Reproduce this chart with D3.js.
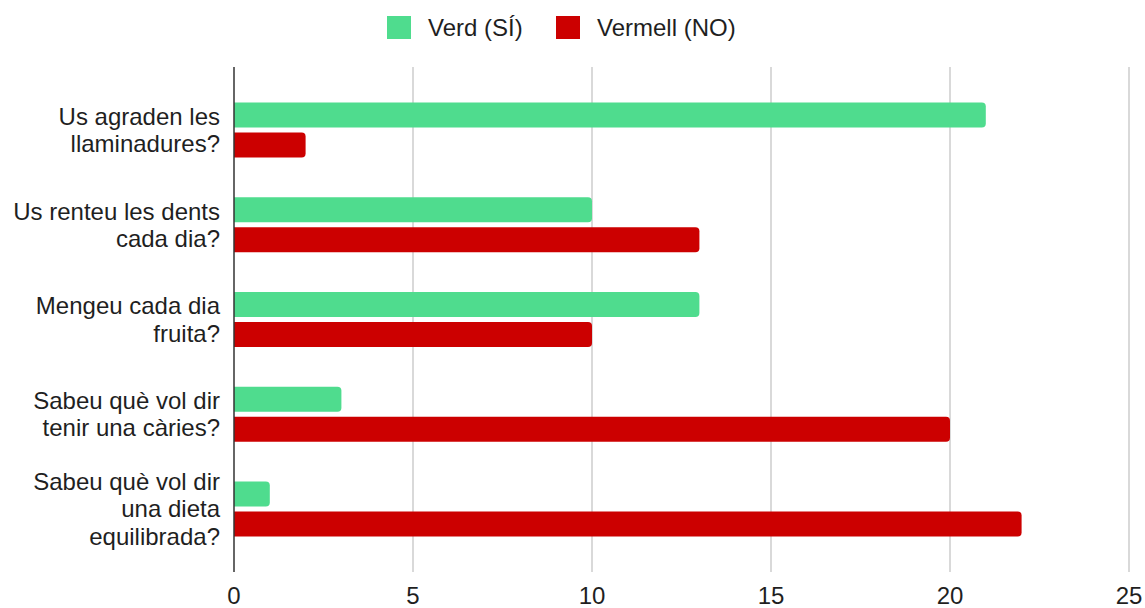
<!DOCTYPE html>
<html><head><meta charset="utf-8">
<script src="https://cdn.jsdelivr.net/npm/d3@7"></script>
<style>body{margin:0;background:#fff;} text{font-family:"Liberation Sans",Arial,sans-serif;fill:#1f1f1f;}</style>
</head><body>
<svg id="c" width="1145" height="608"></svg>
<script>
const categories = [
  ["Us agraden les","llaminadures?"],
  ["Us renteu les dents","cada dia?"],
  ["Mengeu cada dia","fruita?"],
  ["Sabeu què vol dir","tenir una càries?"],
  ["Sabeu què vol dir","una dieta","equilibrada?"]
];
const seriesNames = ["Verd (SÍ)", "Vermell (NO)"];
const verd = [21, 10, 13, 3, 1];
const vermell = [2, 13, 10, 20, 22];
const xTicks = [0, 5, 10, 15, 20, 25];
const colors = ["#4fdc8e", "#cc0000"];

(function () {
const svg = d3.select("#c");
const pLeft = 234, pRight = 1129, pTop = 67, pBottom = 572;
const x = d3.scaleLinear().domain([0, 25]).range([pLeft, pRight]);
const y = d3.scaleBand().domain(d3.range(categories.length)).range([pTop, pBottom]).paddingInner(0.42).paddingOuter(0.375);
const ys = d3.scaleBand().domain([0, 1]).range([0, y.bandwidth()]).paddingInner(0.17);

// grid
svg.append("g").selectAll("line").data(xTicks.filter(d => d > 0)).join("line")
  .attr("x1", d => x(d)).attr("x2", d => x(d)).attr("y1", pTop).attr("y2", pBottom)
  .attr("stroke", "#cccccc").attr("stroke-width", 1.5);

// bars
const series = [verd, vermell];
function barPath(x0, x1, y0, h, r) {
  r = Math.min(r, (x1 - x0), h / 2);
  return `M${x0},${y0}H${x1 - r}A${r},${r} 0 0 1 ${x1},${y0 + r}V${y0 + h - r}A${r},${r} 0 0 1 ${x1 - r},${y0 + h}H${x0}Z`;
}
series.forEach((vals, si) => {
  svg.append("g").selectAll("path").data(vals).join("path")
    .attr("d", (v, i) => barPath(x(0), x(v), y(i) + ys(si), ys.bandwidth(), 4))
    .attr("fill", colors[si]);
});

// axis line
svg.append("line").attr("x1", x(0)).attr("x2", x(0)).attr("y1", pTop).attr("y2", pBottom)
  .attr("stroke", "#333").attr("stroke-width", 1.5);

// x tick labels
svg.append("g").selectAll("text").data(xTicks).join("text")
  .attr("x", d => x(d)).attr("y", 604).attr("text-anchor", "middle")
  .style("font-size", "24px").text(d => d);

// y labels
const lh = 27.5;
const yl = svg.append("g");
categories.forEach((lines, i) => {
  const cy = y(i) + y.bandwidth() / 2;
  const t = yl.append("text").attr("text-anchor", "end").style("font-size", "24px");
  lines.forEach((ln, j) => {
    t.append("tspan").attr("x", 220)
      .attr("y", cy + 8.5 + (j - (lines.length - 1) / 2) * lh).text(ln);
  });
});

// legend
const lg = svg.append("g");
const legX = [387, 556];
seriesNames.forEach((n, i) => {
  lg.append("rect").attr("x", legX[i]).attr("y", 16).attr("width", 24).attr("height", 23)
    .attr("fill", colors[i]);
  lg.append("text").attr("x", legX[i] + 41).attr("y", 36).style("font-size", "24px").text(n);
});
})();
</script>
</body></html>
